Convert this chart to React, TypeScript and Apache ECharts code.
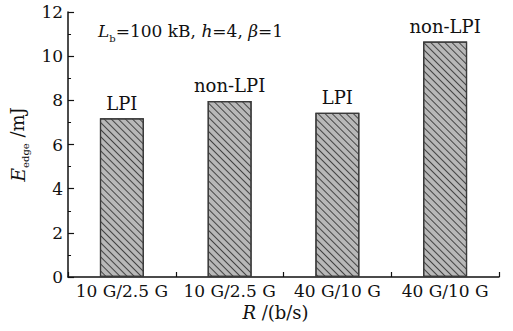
import React, { useEffect, useRef } from "react";
import * as echarts from "echarts";

const categories = ["10 G/2.5 G", "10 G/2.5 G", "40 G/10 G", "40 G/10 G"];
const energyValues = [7.19, 7.97, 7.44, 10.66];
const barLabels = ["LPI", "non-LPI", "LPI", "non-LPI"];
const yTicks = [0, 2, 4, 6, 8, 10, 12];

const FONT = "DejaVu Serif";
const INK = "#111";

const tok = (size: number, extra: any = {}) => ({ fontFamily: FONT, fontSize: size, color: INK, ...extra });

export default function App() {
  const ref = useRef<HTMLDivElement>(null);
  useEffect(() => {
    if (!ref.current) return;
    const chart = echarts.init(ref.current, undefined, { renderer: "svg" });
    const option: any = {
      animation: false,
      backgroundColor: "#fff",
      textStyle: { fontFamily: FONT },
      grid: { left: 64, right: 14, top: 12, bottom: 54, containLabel: false },
      xAxis: [
        {
          type: "category",
          data: categories,
          boundaryGap: true,
          axisLine: { show: true, lineStyle: { color: INK, width: 1.5 } },
          axisTick: { show: true, inside: true, length: 5, alignWithLabel: false, lineStyle: { color: INK, width: 1.2 } },
          axisLabel: {
            color: INK,
            fontFamily: FONT,
            fontSize: 17,
            margin: 5,
            interval: 0,
            formatter: (v: string) => `{t|${v}}`,
            rich: { t: tok(17) },
          },
          splitLine: { show: false },
          name: "{i|R}{n| /(b/s)}",
          nameLocation: "middle",
          nameGap: 23,
          nameTextStyle: {
            color: INK,
            fontFamily: FONT,
            fontSize: 18,
            padding: [0, 16, 0, 0],
            rich: {
              i: tok(18, { fontStyle: "italic" }),
              n: tok(18),
            },
          },
        },
        {
          type: "category",
          data: categories,
          position: "bottom",
          boundaryGap: true,
          axisLine: { show: false },
          axisTick: { show: true, inside: true, length: 4, alignWithLabel: true, lineStyle: { color: INK, width: 1.2 } },
          axisLabel: { show: false },
          splitLine: { show: false },
        },
      ],
      yAxis: {
        type: "value",
        min: yTicks[0],
        max: yTicks[yTicks.length - 1],
        interval: 2,
        axisLine: { show: true, lineStyle: { color: INK, width: 1.5 } },
        axisTick: { show: true, inside: true, length: 6, lineStyle: { color: INK, width: 1.2 } },
        minorTick: { show: true, splitNumber: 2, length: 3, lineStyle: { color: INK, width: 1 } },
        axisLabel: {
          color: INK,
          fontFamily: FONT,
          fontSize: 17,
          margin: 5,
          formatter: (v: number) => `{t|${v}}`,
          rich: { t: tok(17) },
        },
        splitLine: { show: false },
        name: "{i|E}{s|edge}{n| /mJ}",
        nameLocation: "middle",
        nameGap: 29,
        nameRotate: 90,
        nameTextStyle: {
          color: INK,
          fontFamily: FONT,
          fontSize: 18,
          rich: {
            i: tok(19, { fontStyle: "italic", lineHeight: 21, verticalAlign: "middle" }),
            s: tok(10, { lineHeight: 26, verticalAlign: "bottom" }),
            n: tok(18, { lineHeight: 21, verticalAlign: "middle" }),
          },
        },
      },
      series: [
        {
          type: "bar",
          xAxisIndex: 0,
          data: energyValues,
          barWidth: 44,
          itemStyle: {
            color: "#b8b8b8",
            borderColor: "#3a3a3a",
            borderWidth: 1.2,
            decal: {
              symbol: "rect",
              symbolSize: 1,
              dashArrayX: [1, 0],
              dashArrayY: [1, 3.5],
              rotation: Math.PI / 4,
              color: "#444",
            },
          },
          label: {
            show: true,
            position: "top",
            distance: 6,
            color: INK,
            fontFamily: FONT,
            fontSize: 18,
            formatter: (p: any) => `{t|${barLabels[p.dataIndex]}}`,
            rich: { t: tok(18) },
          },
        },
      ],
      graphic: [
        {
          type: "text",
          left: 98,
          top: 22,
          style: {
            text: "{i|L}{s|b}{n|=100 kB, }{i|h}{n|=4, }{i|β}{n|=1}",
            fill: INK,
            font: `17px ${FONT}`,
            rich: {
              i: { fontStyle: "italic", fontFamily: FONT, fontSize: 17, fill: INK, lineHeight: 20, verticalAlign: "middle" },
              s: { fontFamily: FONT, fontSize: 10, fill: INK, lineHeight: 25, verticalAlign: "bottom" },
              n: { fontFamily: FONT, fontSize: 17, fill: INK, lineHeight: 20, verticalAlign: "middle" },
            },
          },
        },
      ],
    };
    chart.setOption(option);
    return () => chart.dispose();
  }, []);
  return <div ref={ref} style={{ width: 513, height: 331, position: "absolute", left: 0, top: 0 }} />;
}
